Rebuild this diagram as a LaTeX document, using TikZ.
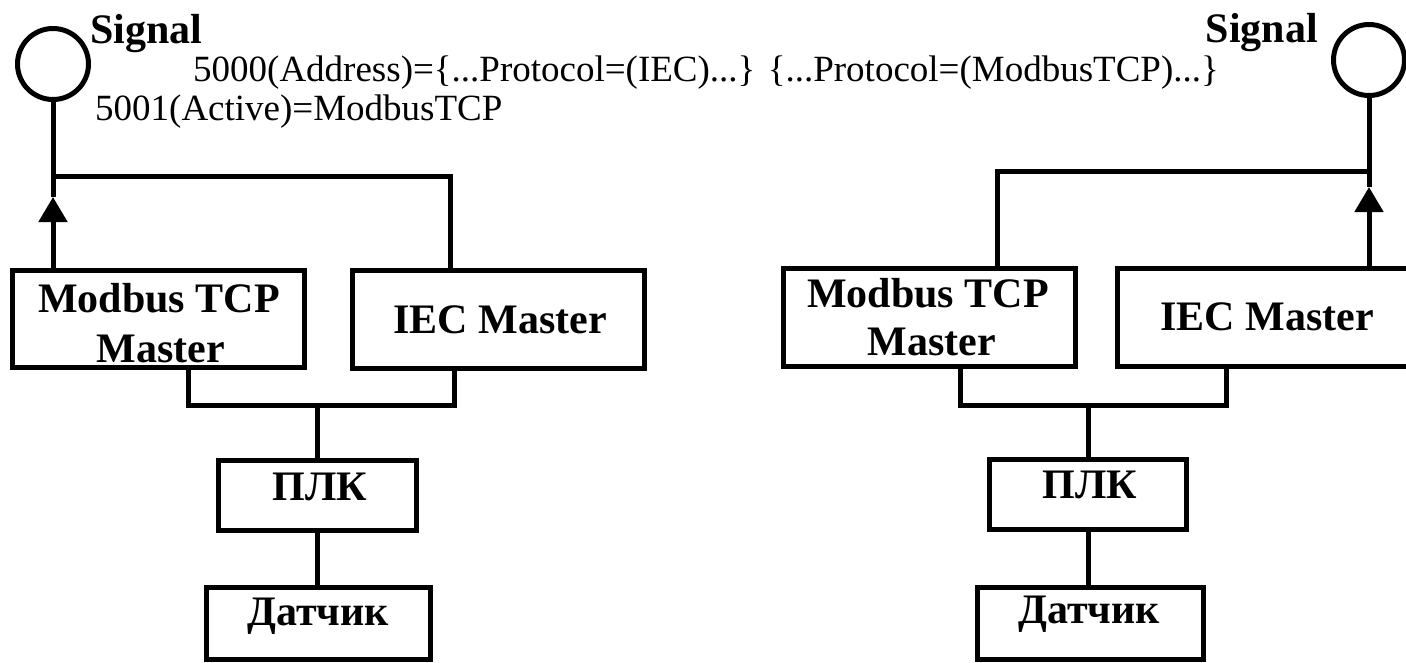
\documentclass[tikz,border=0pt]{standalone}
\usepackage{fontspec}
\setmainfont{Liberation Serif}
\usetikzlibrary{arrows.meta}

\begin{document}
\begin{tikzpicture}[x=1pt,y=-1pt,
  wire/.style={line width=5pt},
  box/.style={draw, line width=5pt, rectangle, inner sep=0pt, outer sep=0pt},
  lbl/.style={font=\fontsize{42}{48}\selectfont\bfseries, anchor=base, inner sep=0pt},
  note/.style={font=\fontsize{37}{44}\selectfont, anchor=base west, inner sep=0pt},
  sig/.style={draw, circle, line width=5pt, minimum size=71pt, inner sep=0pt, outer sep=0pt},
  uptip/.style={-{Triangle[width=28pt,length=25pt]}}
]
\clip (0,0) rectangle (1406,662);
\fill[white] (0,0) rectangle (1406,662);

% signal points
\node[sig] (sig1) at (53,64) {};
\node[sig] (sig2) at (1369,60) {};

% left station
\node[box, minimum width=292pt, minimum height=97pt] (mb1) at (158.5,318.5) {};
\node[box, minimum width=292pt, minimum height=98pt] (ie1) at (498.5,319) {};
\node[box, minimum width=197.5pt, minimum height=70pt] (plc1) at (317.25,495.5) {};
\node[box, minimum width=224pt, minimum height=72pt] (dat1) at (318,623) {};

% right station
\node[box, minimum width=292pt, minimum height=98pt] (mb2) at (929,317.5) {};
\node[box, minimum width=292pt, minimum height=98pt] (ie2) at (1263.5,317.5) {};
\node[box, minimum width=197pt, minimum height=70pt] (plc2) at (1088,494.5) {};
\node[box, minimum width=226pt, minimum height=72pt] (dat2) at (1090,623) {};

% left wiring
\coordinate (j1) at (53,176);
\coordinate (a1) at (53,197);
\coordinate (t1) at (450,176);
\coordinate (b1) at (188,405.5);
\coordinate (b2) at (454,405.5);
\draw[wire] (sig1.south) -- (j1) -- (t1) -- (t1 |- ie1.north);
\draw[wire,uptip] (mb1.north -| a1) -- (a1);
\draw[wire] (a1) -- (j1);
\draw[wire] (mb1.south -| b1) -- (b1) -- (b2) -- (ie1.south -| b2);
\draw[wire] (plc1.north) -- (plc1.north |- b1);
\draw[wire] (plc1.south) -- (plc1.south |- dat1.north);

% right wiring
\coordinate (j2) at (1369,171);
\coordinate (a2) at (1369,187);
\coordinate (t2) at (997,171);
\coordinate (b3) at (960,405);
\coordinate (b4) at (1226,405);
\draw[wire] (sig2.south) -- (j2) -- (t2) -- (t2 |- mb2.north);
\draw[wire,uptip] (ie2.north -| a2) -- (a2);
\draw[wire] (a2) -- (j2);
\draw[wire] (mb2.south -| b3) -- (b3) -- (b4) -- (ie2.south -| b4);
\draw[wire] (plc2.north) -- (plc2.north |- b3);
\draw[wire] (plc2.south) -- (plc2.south |- dat2.north);

% box labels
\node[lbl] (mb1a) at (159,312) {Modbus TCP};
\node[lbl] (mb1b) at (161,362) {Master};
\node[lbl] (ie1t) at (500,333) {IEC Master};
\node[lbl] (plc1t) at (320,500) {ПЛК};
\node[lbl] (dat1t) at (318,625) {Датчик};
\node[lbl] (mb2a) at (928,307) {Modbus TCP};
\node[lbl] (mb2b) at (932,355) {Master};
\node[lbl] (ie2t) at (1267,330) {IEC Master};
\node[lbl] (plc2t) at (1090,498) {ПЛК};
\node[lbl] (dat2t) at (1089,623) {Датчик};

% signal names and register notes
\node[lbl, anchor=base west] (s1t) at (90,43) {Signal};
\node[lbl, anchor=base east] (s2t) at (1318,42) {Signal};
\node[note] (n1) at (193,81) {5000(Address)=\{...Protocol=(IEC)...\} \{...Protocol=(ModbusTCP)...\}};
\node[note] (n2) at (95,120) {5001(Active)=ModbusTCP};
\end{tikzpicture}
\end{document}
